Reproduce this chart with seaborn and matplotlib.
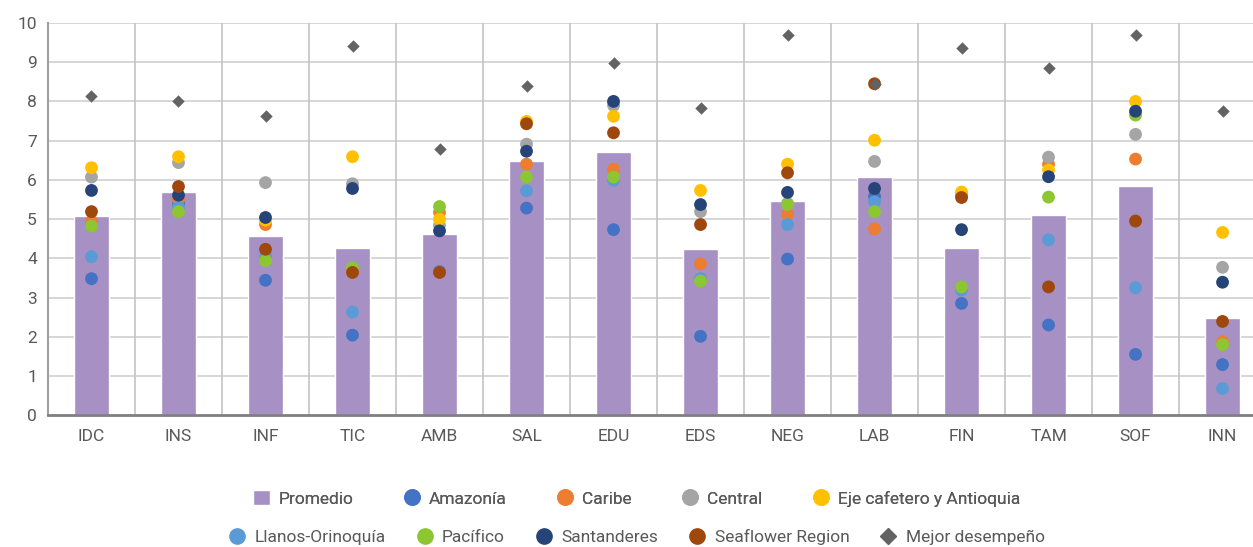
import numpy as np
import pandas as pd
import matplotlib.pyplot as plt
import seaborn as sns
from matplotlib.lines import Line2D
from matplotlib.patches import Patch

categorias = ["IDC", "INS", "INF", "TIC", "AMB", "SAL", "EDU", "EDS", "NEG", "LAB", "FIN", "TAM", "SOF", "INN"]

promedio    = [5.07, 5.69, 4.56, 4.26, 4.63, 6.49, 6.70, 4.23, 5.46, 6.07, 4.27, 5.10, 5.85, 2.48]
amazonia    = [3.48, 5.40, 3.44, 2.04, 3.66, 5.28, 4.73, 2.01, 3.98, 5.58, 2.85, 2.30, 1.55, 1.29]
caribe      = [4.94, 5.50, 4.86, 3.65, 5.17, 6.40, 6.27, 3.86, 5.12, 4.75, 5.62, 6.40, 6.53, 1.87]
central     = [6.07, 6.44, 5.93, 5.90, 4.84, 6.91, 7.90, 5.19, 5.40, 6.47, 5.60, 6.58, 7.16, 3.77]
eje_cafe    = [6.31, 6.59, 4.97, 6.59, 5.00, 7.49, 7.62, 5.73, 6.40, 7.01, 5.69, 6.25, 8.00, 4.66]
llanos      = [4.04, 5.30, 4.05, 2.63, 3.65, 5.72, 5.99, 3.48, 4.86, 5.44, 3.19, 4.47, 3.25, 0.68]
pacifico    = [4.82, 5.19, 3.94, 3.76, 5.32, 6.07, 6.07, 3.42, 5.37, 5.19, 3.27, 5.56, 7.65, 1.80]
santanderes = [5.73, 5.61, 5.04, 5.78, 4.70, 6.73, 8.00, 5.37, 5.68, 5.78, 4.73, 6.08, 7.75, 3.39]
seaflower   = [5.19, 5.83, 4.23, 3.64, 3.64, 7.43, 7.20, 4.86, 6.18, 8.45, 5.55, 3.27, 4.95, 2.39]
mejor       = [8.14, 8.00, 7.64, 9.41, 6.79, 8.39, 8.98, 7.82, 9.70, 8.45, 9.37, 8.86, 9.70, 7.75]

regiones = {
    "Amazonía": amazonia,
    "Caribe": caribe,
    "Central": central,
    "Eje cafetero y Antioquia": eje_cafe,
    "Llanos-Orinoquía": llanos,
    "Pacífico": pacifico,
    "Santanderes": santanderes,
    "Seaflower Region": seaflower,
}
colores = {
    "Amazonía": "#4472C4",
    "Caribe": "#ED7D31",
    "Central": "#A5A5A5",
    "Eje cafetero y Antioquia": "#FFC000",
    "Llanos-Orinoquía": "#5B9BD5",
    "Pacífico": "#8CC631",
    "Santanderes": "#264478",
    "Seaflower Region": "#9E480E",
}
color_barra = "#A690C4"
color_mejor = "#636363"
color_texto = "#595959"

sns.set_style("white")
plt.rcParams["font.family"] = ["Roboto", "DejaVu Sans"]

df_bar = pd.DataFrame({"cat": categorias, "val": promedio})
df_pts = pd.DataFrame({"cat": categorias, **regiones}).melt(id_vars="cat", var_name="region", value_name="val")
df_mej = pd.DataFrame({"cat": categorias, "val": mejor})

fig = plt.figure(figsize=(12.53, 5.47), dpi=100)
ax = fig.add_axes([0.0383, 0.241, 0.9617, 0.717])

sns.barplot(data=df_bar, x="cat", y="val", order=categorias, color=color_barra,
            width=0.4, saturation=1, ax=ax, zorder=2)
sns.scatterplot(data=df_pts, x="cat", y="val", hue="region", palette=colores,
                s=85, linewidth=0, legend=False, ax=ax, zorder=3)
sns.scatterplot(data=df_mej, x="cat", y="val", color=color_mejor, marker="D",
                s=40, linewidth=0, legend=False, ax=ax, zorder=4)

ax.set_xlim(-0.5, 13.35)
ax.set_ylim(0, 10)
ax.set_yticks(range(0, 11))
ax.set_xlabel("")
ax.set_ylabel("")
for y in range(1, 11):
    ax.axhline(y, color="#D0D0D0", lw=1.2, zorder=1)
for x in np.arange(0.5, 13.5, 1):
    ax.axvline(x, color="#C4C4C4", lw=1.2, zorder=1)
for side in ["top", "right"]:
    ax.spines[side].set_visible(False)
ax.spines["left"].set_color("#A0A0A0")
ax.spines["left"].set_linewidth(1.5)
ax.spines["bottom"].set_color("#808080")
ax.spines["bottom"].set_linewidth(2)
ax.tick_params(axis="both", length=0, colors=color_texto, labelsize=12.5)
ax.tick_params(axis="x", pad=10)
ax.tick_params(axis="y", pad=8)

# leyenda en dos filas
nombres = list(regiones.keys())
fila1 = [Patch(facecolor=color_barra, label="Promedio")]
fila1 += [Line2D([], [], marker="o", ls="", color=colores[n], markersize=11, label=n) for n in nombres[:4]]
fila2 = [Line2D([], [], marker="o", ls="", color=colores[n], markersize=11, label=n) for n in nombres[4:]]
fila2 += [Line2D([], [], marker="D", ls="", color=color_mejor, markersize=8, label="Mejor desempeño")]

leg1 = fig.legend(handles=fila1, loc="center", bbox_to_anchor=(0.508, 0.089), ncol=5,
                  frameon=False, fontsize=12.5, columnspacing=2.85, handletextpad=0.5,
                  handlelength=1.0, handleheight=1.0, labelcolor=color_texto)
fig.legend(handles=fila2, loc="center", bbox_to_anchor=(0.508, 0.019), ncol=5,
           frameon=False, fontsize=12.5, columnspacing=1.75, handletextpad=0.5,
           handlelength=1.0, labelcolor=color_texto)
fig.add_artist(leg1)

fig.savefig("out.png", dpi=100)
plt.close(fig)
